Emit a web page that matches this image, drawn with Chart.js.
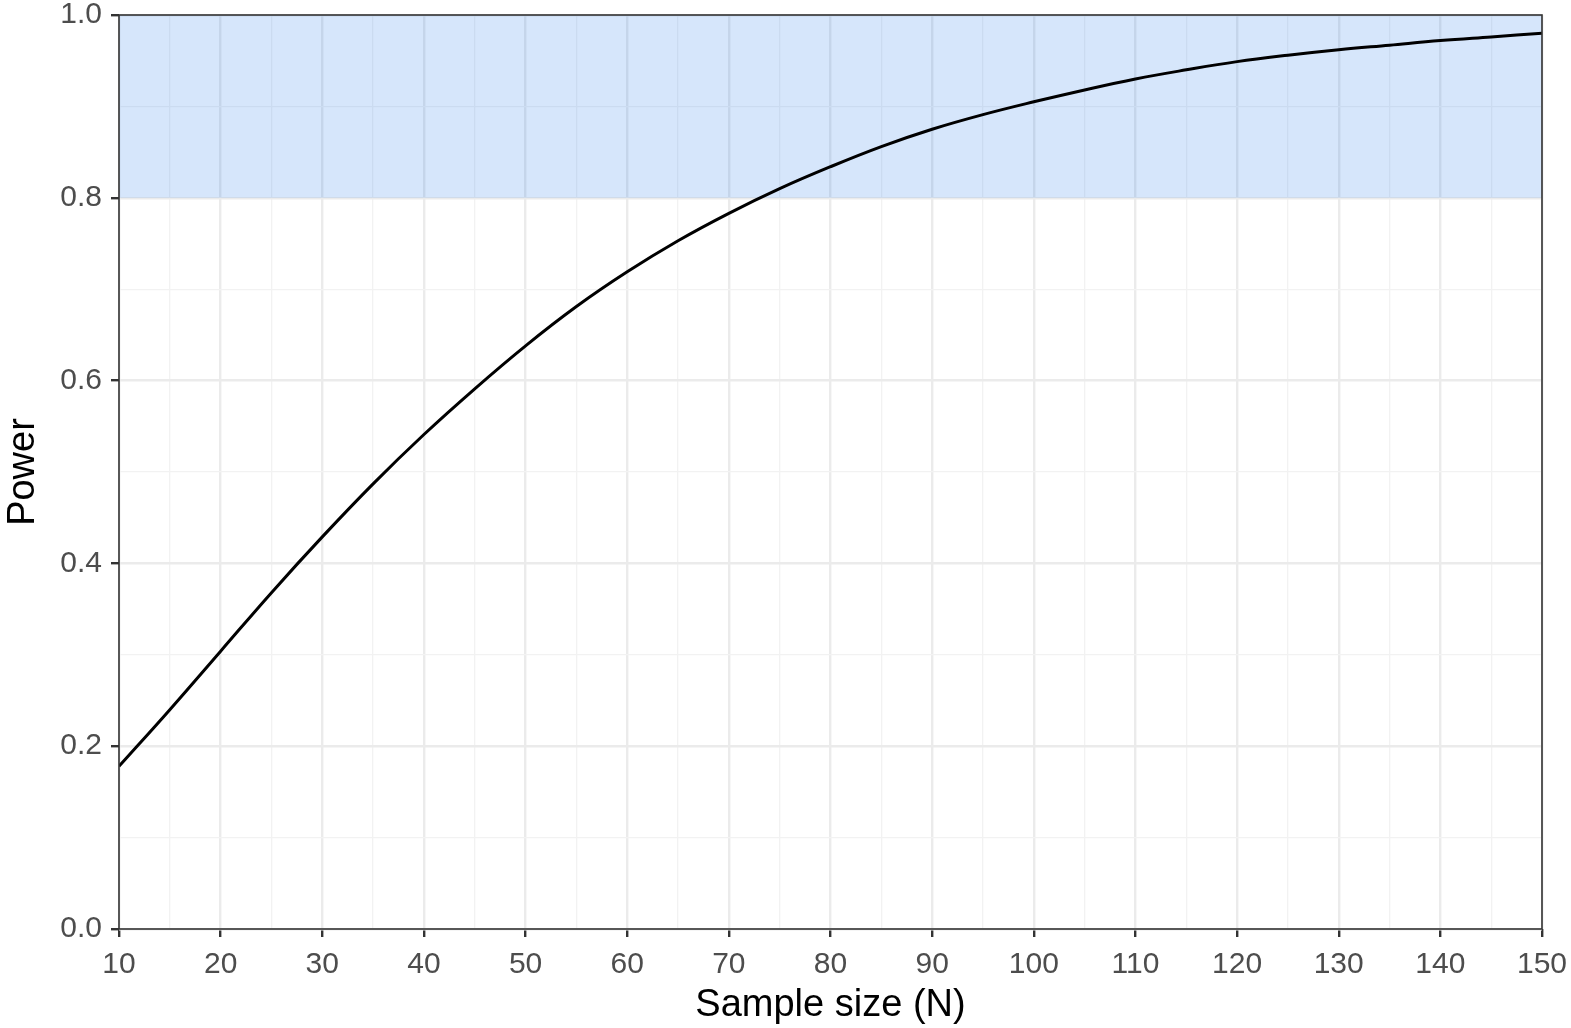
<!DOCTYPE html>
<html>
<head>
<meta charset="utf-8">
<script src="https://cdn.jsdelivr.net/npm/chart.js@4.4.1/dist/chart.umd.min.js"></script>
<style>
  html,body{margin:0;padding:0;background:#fff;overflow:hidden;}
  #wrap{position:relative;width:1600px;height:1028px;}
</style>
</head>
<body>
<div id="wrap"><canvas id="powerChart"></canvas></div>
<script>
// sample sizes and power
const sampleSizes=[10,15,20,25,30,35,40,45,50,55,60,65,70,75,80,85,90,95,100,105,110,115,120,125,130,135,140,145,150];
const powerValues=[0.178,0.240,0.304,0.368,0.429,0.487,0.541,0.591,0.638,0.681,0.719,0.753,0.783,0.810,0.834,0.856,0.875,0.891,0.905,0.918,0.930,0.940,0.949,0.956,0.962,0.967,0.972,0.976,0.980];
// target power band
const bandLow=0.8, bandHigh=1.0;
const xRange=[10,150], yRange=[0,1];

const font="'Liberation Sans', Arial, Helvetica, sans-serif";
const isMajorX=v=>Math.round(v)%10===0;
const isMajorY=v=>Math.round(v*10)%2===0;

const panelBorder={
  id:'panelBorder',
  afterDraw(chart){
    const {ctx,chartArea:a}=chart;
    ctx.save();
    ctx.strokeStyle='#333333';ctx.lineWidth=1.6;
    ctx.strokeRect(a.left,a.top,a.right-a.left,a.bottom-a.top);
    ctx.restore();
  }
};

new Chart(document.getElementById('powerChart'),{
  type:'line',
  data:{datasets:[
    {label:'power',data:sampleSizes.map((n,i)=>({x:n,y:powerValues[i]})),
     borderColor:'#000',borderWidth:3,pointRadius:0,fill:false,
     tension:0.4,order:0},
    {label:'band',data:[{x:xRange[0],y:bandHigh},{x:xRange[1],y:bandHigh}],
     borderWidth:0,pointRadius:0,fill:{value:bandLow},
     backgroundColor:'rgba(0,102,230,0.16)',order:1}
  ]},
  options:{
    responsive:true,maintainAspectRatio:false,animation:false,
    layout:{padding:{top:15,right:58,left:0,bottom:0}},
    plugins:{legend:{display:false},tooltip:{enabled:false}},
    scales:{
      x:{type:'linear',min:xRange[0],max:xRange[1],
        afterFit:s=>{s.height=99;s.paddingLeft=0;s.paddingRight=0;},
        border:{display:false},
        grid:{
          color:c=>isMajorX(c.tick.value)?'#ebebeb':'#f2f2f2',
          lineWidth:c=>isMajorX(c.tick.value)?2.4:1.3,
          tickColor:c=>isMajorX(c.tick.value)?'#333333':'rgba(0,0,0,0)',
          tickLength:8,tickWidth:2.4},
        ticks:{stepSize:5,autoSkip:false,maxRotation:0,padding:10,color:'#4d4d4d',
          font:{family:font,size:30},
          callback:v=>isMajorX(v)?String(Math.round(v)):''},
        title:{display:true,text:'Sample size (N)',color:'#000',
          font:{family:font,size:38},padding:{top:0,bottom:0}}
      },
      y:{type:'linear',min:yRange[0],max:yRange[1],
        afterFit:s=>{s.width=119;s.paddingTop=0;s.paddingBottom=0;},
        border:{display:false},
        grid:{
          color:c=>isMajorY(c.tick.value)?'#ebebeb':'#f2f2f2',
          lineWidth:c=>isMajorY(c.tick.value)?2.4:1.3,
          tickColor:c=>isMajorY(c.tick.value)?'#333333':'rgba(0,0,0,0)',
          tickLength:8,tickWidth:2.4},
        ticks:{stepSize:0.1,autoSkip:false,padding:9,color:'#4d4d4d',
          font:{family:font,size:30},
          callback:v=>isMajorY(v)?v.toFixed(1):''},
        title:{display:true,text:'Power',color:'#000',
          font:{family:font,size:38},padding:{top:1,bottom:0}}
      }
    }
  },
  plugins:[panelBorder]
});
</script>
</body>
</html>
